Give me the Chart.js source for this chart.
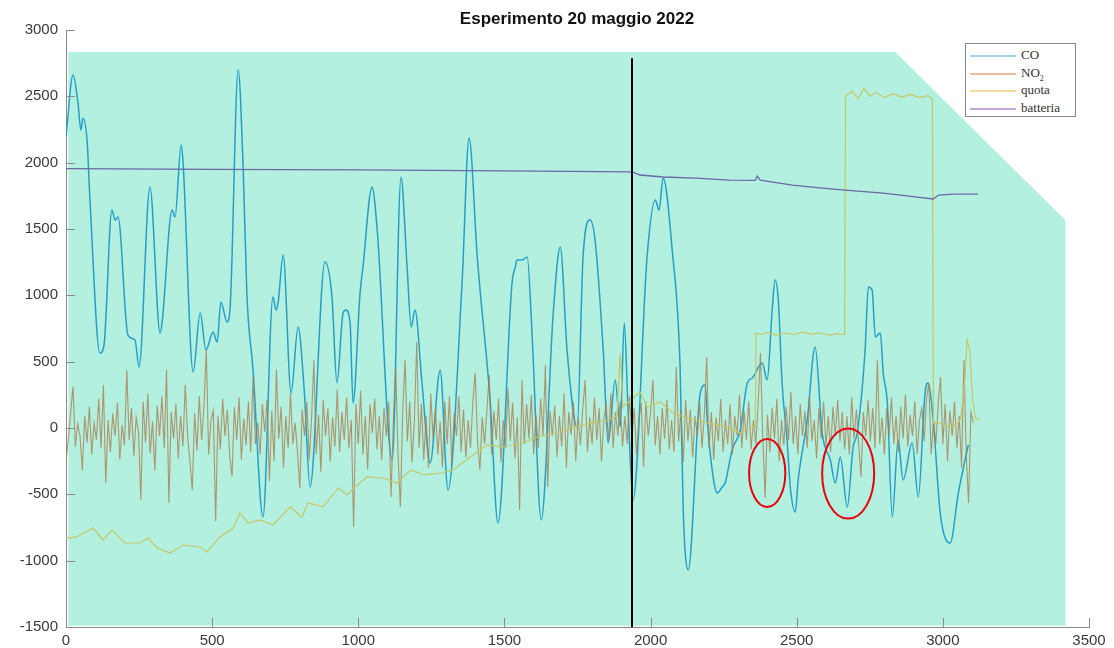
<!DOCTYPE html>
<html>
<head>
<meta charset="utf-8">
<script src="https://cdn.jsdelivr.net/npm/chart.js@4/dist/chart.umd.min.js"></script>
<style>
  body { margin: 0; background: #fff; }
  #wrap { position: relative; width: 1114px; height: 648px; }
  #title { position: absolute; left: 577px; top: 9px; transform: translateX(-50%);
    font: bold 17px "Liberation Sans", Arial, sans-serif; color: #111; white-space: nowrap; }
  #legend { position: absolute; left: 965px; top: 43px; width: 111px; height: 74px;
    border: 1px solid #8a8a8a; background: #fff; box-sizing: border-box; padding-top: 2px;
    font: 13px "Liberation Serif", "Times New Roman", serif; color: #333; }
  #legend div { height: 17.5px; line-height: 17.5px; white-space: nowrap; }
  #legend span.ln { display: inline-block; width: 46px; height: 2px; margin: 0 5px 0 4px; vertical-align: middle; }
  #legend sub { font-size: 8px; }
</style>
</head>
<body>
<div id="wrap">
  <canvas id="c" width="1114" height="648"></canvas>
  <div id="title">Esperimento 20 maggio 2022</div>
  <div id="legend">
    <div><span class="ln" style="background:#a9d0ea"></span>CO</div>
    <div><span class="ln" style="background:#f3b9a1"></span>NO<sub>2</sub></div>
    <div><span class="ln" style="background:#f4dc9f"></span>quota</div>
    <div><span class="ln" style="background:#c8a6d8"></span>batteria</div>
  </div>
</div>
<script>
// CO (blue)
const coX = [0,24,41,51,58,72,82,116,130,157,168,178,212,236,250,287,322,329,363,373,394,400,435,459,479,503,517,530,551,561,589,606,619,640,674,708,719,726,743,770,794,815,835,886,910,927,948,958,972,982,1006,1016,1047,1064,1116,1146,1167,1181,1194,1218,1246,1280,1307,1355,1379,1407,1451,1478,1526,1537,1543,1561,1578,1595,1626,1667,1691,1715,1749,1769,1793,1810,1838,1855,1879,1896,1910,1923,1940,1988,2016,2029,2043,2074,2101,2112,2129,2170,2187,2194,2214,2228,2245,2255,2279,2307,2331,2348,2382,2399,2416,2426,2437,2450,2467,2478,2495,2505,2536,2563,2587,2615,2632,2649,2673,2693,2707,2734,2745,2758,2769,2786,2796,2810,2827,2847,2864,2895,2916,2940,2950,2967,2991,3025,3053,3087];
const coY = [2190,2660,2450,2245,2335,2170,1718,565,625,1643,1567,1590,700,663,460,1816,716,799,1643,1590,2133,2020,422,867,588,723,648,950,799,889,2698,1967,1002,437,-670,987,889,950,1304,264,761,286,-445,1251,987,339,867,889,791,188,1017,1213,1816,1515,-241,1891,1213,761,889,339,-264,437,-467,1093,2185,1289,211,-716,1093,1213,1266,1266,1289,686,-693,867,1364,565,7,1289,1567,1417,588,-113,362,7,791,136,-543,1289,1718,1643,1884,1341,460,-641,-1070,264,324,60,-369,-490,-445,-415,-166,-15,339,377,490,362,889,1115,965,339,-90,-445,-633,-392,60,610,-38,-241,-415,-219,-595,-143,-38,588,1063,1040,686,716,414,188,-671,-90,-392,-113,-520,286,339,60,-641,-867,-490,-128];

// NO2 (one reading every no2Step units)
const no2Step = 8;
const no2Y = [
  -260,-80,120,310,-140,30,-60,-320,90,-110,
  160,-200,40,-90,220,-150,324,-414,60,-180,
  110,-60,190,-240,20,-130,437,-90,150,-210,
  80,-30,-540,200,-110,260,-190,50,-320,170,
  -60,240,-150,437,-565,120,-80,180,-230,90,
  -140,324,-60,-250,-465,110,-170,240,-90,160,
  590,-200,60,130,-700,90,-160,220,-60,140,
  -210,-364,160,-90,230,-240,70,-130,200,-180,
  386,-120,40,-200,180,-30,210,-400,130,-250,
  440,-80,160,-300,90,-150,260,-120,40,-180,
  -450,140,-60,200,-240,70,512,-200,100,-330,
  210,-60,150,-250,80,-140,290,-180,120,-90,
  230,-150,60,-746,180,-120,280,-200,90,-310,
  180,-40,220,-160,90,-240,150,-60,200,-520,
  60,460,-200,-595,120,512,-100,200,-260,60,
  648,-150,180,-240,90,-300,260,-80,150,-200,
  50,-300,200,-120,240,-280,110,-60,240,-180,
  140,-220,60,-150,200,414,-100,-316,80,-120,
  130,400,-200,130,-90,220,-260,60,-150,300,
  -100,190,-230,80,-618,362,-120,180,-80,250,
  -200,100,-150,220,-60,475,-445,130,-60,170,
  -220,90,-140,260,-300,120,-50,200,-250,80,
  -130,150,362,-180,80,-120,230,-90,150,-250,
  60,180,-100,260,-150,120,-60,200,-140,90,
  -120,240,-80,150,-200,60,190,-294,200,-60,
  120,362,-130,90,-200,150,-80,210,-160,60,
  -180,460,-100,140,-260,210,-100,140,-220,90,
  -60,200,-150,100,535,-150,120,-240,80,-100,
  220,-180,60,-120,180,-200,90,-60,250,-150,
  130,-90,200,-160,60,-120,180,565,-80,-528,
  100,-180,150,-80,220,-250,60,-130,160,-90,
  271,-120,90,-200,180,-60,130,-150,240,-100,
  60,-230,150,-80,200,-140,90,-180,160,-60,
  210,-100,120,-160,90,-200,230,-80,140,-120,
  -369,120,-60,210,-100,150,-150,512,-120,80,
  -200,150,-60,230,-120,90,-180,160,-80,250,
  -140,100,-60,200,-200,60,150,-100,220,339,
  -200,60,-120,180,384,-120,180,-250,130,-60,
  200,-150,90,-300,512,-200,-565,120,40
];

// quota (yellow)
const quotaX = [0,37,93,127,157,202,253,281,311,356,400,459,482,527,572,595,623,664,708,767,807,828,880,931,962,989,1030,1085,1133,1180,1225,1283,1325,1383,1441,1496,1564,1612,1680,1735,1803,1851,1885,1896,1905,1964,1988,2033,2077,2125,2194,2262,2307,2351,2358,2361,2380,2400,2430,2460,2490,2520,2550,2580,2610,2640,2664,2667,2690,2710,2730,2750,2770,2800,2830,2860,2890,2920,2950,2964,2968,3000,3030,3060,3075,3083,3092,3102,3112,3128];
const quotaY = [-830,-821,-754,-844,-769,-867,-867,-829,-904,-942,-882,-897,-934,-821,-754,-641,-716,-693,-731,-595,-671,-565,-595,-452,-505,-445,-369,-377,-415,-316,-354,-339,-316,-219,-128,-143,-113,-68,-38,8,38,60,90,565,158,271,158,196,113,75,38,8,-38,8,10,716,705,720,700,715,705,722,708,716,700,712,705,2500,2540,2480,2560,2500,2530,2490,2520,2495,2515,2490,2505,2480,40,30,0,60,350,663,588,211,75,60];

// batteria (purple)
const battX = [0,500,1000,1500,1937,1964,2043,2156,2269,2358,2365,2375,2485,2588,2666,2796,2913,2967,2985,3036,3121];
const battY = [1955,1950,1945,1938,1930,1907,1892,1884,1869,1866,1899,1868,1831,1808,1793,1771,1741,1726,1756,1763,1763];

// annotation shapes
const bgX = [8, 2837, 3419, 3419, 8];
const bgY = [2834, 2834, 1567, -1490, -1490];
const markX = 1937, markTop = 2788;
const ellipses = [
  { x: 2399, y: -339, rx: 62, ry: 256 },
  { x: 2676, y: -343, rx: 89, ry: 340 }
];

const pts = (xs, ys) => xs.map((x, i) => ({ x: x, y: ys[i] }));
const no2Pts = no2Y.map((y, i) => ({ x: i * no2Step, y: y }));

const decor = {
  id: 'decor',
  beforeDatasetsDraw(chart) {
    const { ctx, scales: { x, y } } = chart;
    ctx.save();
    ctx.fillStyle = 'rgb(179,240,223)';
    ctx.beginPath();
    bgX.forEach((v, i) => {
      const px = x.getPixelForValue(v), py = y.getPixelForValue(bgY[i]);
      if (i === 0) ctx.moveTo(px, py); else ctx.lineTo(px, py);
    });
    ctx.closePath();
    ctx.fill();
    ctx.restore();
  },
  afterDatasetsDraw(chart) {
    const { ctx, scales: { x, y } } = chart;
    ctx.save();
    // vertical marker
    ctx.strokeStyle = '#000';
    ctx.lineWidth = 2;
    ctx.beginPath();
    const mx = Math.round(x.getPixelForValue(markX));
    ctx.moveTo(mx, y.getPixelForValue(markTop));
    ctx.lineTo(mx, y.getPixelForValue(-1500));
    ctx.stroke();
    // red ellipses
    ctx.strokeStyle = '#e8000b';
    ctx.lineWidth = 2;
    ellipses.forEach(e => {
      const cx = x.getPixelForValue(e.x), cy = y.getPixelForValue(e.y);
      const rx = x.getPixelForValue(e.x + e.rx) - cx;
      const ry = cy - y.getPixelForValue(e.y + e.ry);
      ctx.beginPath();
      ctx.ellipse(cx, cy, rx, ry, 0, 0, Math.PI * 2);
      ctx.stroke();
    });
    // inward tick marks
    ctx.strokeStyle = '#8a8a8a';
    ctx.lineWidth = 1;
    const area = chart.chartArea;
    ctx.beginPath();
    x.ticks.forEach(t => {
      const px = Math.round(x.getPixelForValue(t.value)) + 0.5;
      ctx.moveTo(px, area.bottom);
      ctx.lineTo(px, area.bottom - 9);
    });
    y.ticks.forEach(t => {
      const py = Math.round(y.getPixelForValue(t.value)) + 0.5;
      ctx.moveTo(area.left, py);
      ctx.lineTo(area.left + 9, py);
    });
    ctx.stroke();
    ctx.restore();
  }
};

Chart.defaults.font.family = '"Liberation Sans", Arial, sans-serif';
Chart.defaults.font.size = 15;
Chart.defaults.color = '#3a3a3a';

new Chart(document.getElementById('c').getContext('2d'), {
  type: 'line',
  data: {
    datasets: [
      { label: 'CO', data: pts(coX, coY), borderColor: 'rgb(38,158,200)', borderWidth: 1.5,
        cubicInterpolationMode: 'monotone', order: 4 },
      { label: 'NO2', data: no2Pts, borderColor: 'rgba(170,126,80,0.8)', borderWidth: 1.1, order: 3 },
      { label: 'quota', data: pts(quotaX, quotaY), borderColor: 'rgb(196,200,104)', borderWidth: 1.2, order: 2 },
      { label: 'batteria', data: pts(battX, battY), borderColor: 'rgb(105,105,165)', borderWidth: 1.3, order: 1 }
    ]
  },
  options: {
    responsive: false,
    animation: false,
    events: [],
    elements: { point: { radius: 0 } },
    layout: { padding: { top: 30, right: 25, left: 0, bottom: 0 } },
    plugins: { legend: { display: false }, title: { display: false }, tooltip: { enabled: false } },
    scales: {
      x: {
        type: 'linear', min: 0, max: 3500,
        ticks: { stepSize: 500, padding: 5, maxRotation: 0, callback: v => String(v) },
        grid: { display: false, drawTicks: false },
        border: { display: true, color: '#8a8a8a', width: 1 },
        afterFit: s => { s.height = 21; }
      },
      y: {
        type: 'linear', min: -1500, max: 3000,
        ticks: { stepSize: 500, padding: 8, callback: v => String(v) },
        grid: { display: false, drawTicks: false },
        border: { display: true, color: '#8a8a8a', width: 1 },
        afterFit: s => { s.width = 66; }
      }
    }
  },
  plugins: [decor]
});
</script>
</body>
</html>
